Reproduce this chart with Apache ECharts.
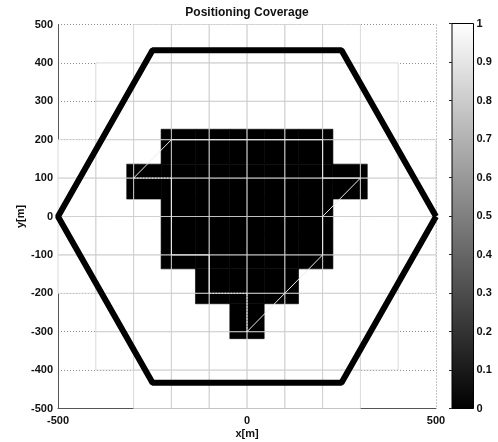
<!DOCTYPE html>
<html><head><meta charset="utf-8">
<script src="https://cdn.jsdelivr.net/npm/echarts@6/dist/echarts.min.js"></script>
<style>html,body{margin:0;padding:0;background:#fff}#c{width:498px;height:442px}</style>
</head><body><div id="c"></div>
<script>
// ---------------- data ----------------
const titleText = 'Positioning Coverage';
const xTicks = [-500, 0, 500];
const yTicks = [-500, -400, -300, -200, -100, 0, 100, 200, 300, 400, 500];
const cbTicks = [0, 0.1, 0.2, 0.3, 0.4, 0.5, 0.6, 0.7, 0.8, 0.9, 1];

// light mesh of 100 m cells: band bottoms and half widths
const meshBandY = [-500, -400, -300, -200, -100, 0, 100, 200, 300, 400];
const meshBandHalfW = [300, 400, 400, 500, 500, 500, 500, 400, 400, 300];
const meshCell = 100;

// coverage image, 11 x 11 cells over [-500,500]^2, rows from top to bottom
const coverageRows = [
  [1,1,1,1,1,1,1,1,1,1,1],
  [1,1,1,1,1,1,1,1,1,1,1],
  [1,1,1,1,1,1,1,1,1,1,1],
  [1,1,1,0,0,0,0,0,1,1,1],
  [1,1,0,0,0,0,0,0,0,1,1],
  [1,1,1,0,0,0,0,0,1,1,1],
  [1,1,1,0,0,0,0,0,1,1,1],
  [1,1,1,1,0,0,0,1,1,1,1],
  [1,1,1,1,1,0,1,1,1,1,1],
  [1,1,1,1,1,1,1,1,1,1,1],
  [1,1,1,1,1,1,1,1,1,1,1]
];

// contour path (light line) and which segments are dotted
const contourX = [-300, -200, 200, 200, 300, 200, 200, 0, 0, -100, -100, -200, -200, -300];
const contourY = [100, 200, 200, 100, 100, 0, -100, -300, -200, -200, -100, -100, 100, 100];
const contourDotted = [0, 0, 0, 0, 0, 0, 0, 1, 1, 0, 0, 0, 1];

// hexagon cell boundary
const hexX = [500, 250, -250, -500, -250, 250, 500];
const hexY = [0, 433, 433, 0, -433, -433, 0];

// colormap (gray)
const colormapStops = ['#000000', '#ffffff'];

// ---------------- build ----------------
const FONT = 'Liberation Sans';
const lblStyle = {fontFamily: FONT, fontWeight: 'bold', fontSize: 11, color: '#111'};

const covN = coverageRows.length;
const covCell = 1000 / covN;
const coverageData = [];
coverageRows.forEach((row, r) => row.forEach((v, c) => {
  coverageData.push([(c - (covN - 1) / 2) * covCell, ((covN - 1) / 2 - r) * covCell, v]);
}));

const meshData = [];
meshBandY.forEach((y, i) => {
  for (let x = -meshBandHalfW[i]; x < meshBandHalfW[i]; x += meshCell) meshData.push([x, y]);
});

const contourData = [];
for (let i = 0; i < contourX.length - 1; i++) {
  contourData.push([contourX[i], contourY[i], contourX[i + 1], contourY[i + 1], contourDotted[i]]);
}

function meshRect(api) {
  const x = api.value(0), y = api.value(1);
  const p = api.coord([x, y + meshCell]);
  const s = api.size([meshCell, meshCell]);
  return {x: p[0], y: p[1], width: s[0], height: s[1]};
}

const chart = echarts.init(document.getElementById('c'), null, {renderer: 'canvas'});
chart.setOption({
  animation: false,
  backgroundColor: '#fff',
  title: {
    text: titleText, left: 247, top: 7, textAlign: 'center', padding: 0,
    textStyle: {fontFamily: FONT, fontWeight: 'bold', fontSize: 12, color: '#111'}
  },
  grid: [
    {left: 58, top: 24.5, width: 378, height: 384, containLabel: false, outerBoundsMode: 'none'},
    {left: 452, top: 23.5, width: 21.5, height: 385, containLabel: false, outerBoundsMode: 'none'}
  ],
  xAxis: [
    {
      gridIndex: 0, type: 'value', min: xTicks[0], max: xTicks[xTicks.length - 1],
      interval: xTicks[1] - xTicks[0],
      name: 'x[m]', nameLocation: 'middle', nameGap: 20, nameMoveOverlap: false, nameTextStyle: lblStyle,
      axisLine: {show: true, onZero: false, lineStyle: {color: '#555', width: 1}},
      axisTick: {show: false},
      axisLabel: Object.assign({margin: 7}, lblStyle),
      splitLine: {show: true, lineStyle: {color: '#8c8c8c', type: [1, 2], width: 1}}
    },
    {gridIndex: 1, type: 'value', min: 0, max: 1, show: false}
  ],
  yAxis: [
    {
      gridIndex: 0, type: 'value', min: yTicks[0], max: yTicks[yTicks.length - 1],
      interval: yTicks[1] - yTicks[0],
      name: 'y[m]', nameLocation: 'middle', nameGap: 32, nameMoveOverlap: false, nameTextStyle: lblStyle,
      axisLine: {show: true, onZero: false, lineStyle: {color: '#555', width: 1}},
      axisTick: {show: false},
      axisLabel: Object.assign({margin: 5}, lblStyle),
      splitLine: {show: true, lineStyle: {color: '#8c8c8c', type: [1, 2], width: 1}}
    },
    {
      gridIndex: 1, type: 'value', position: 'right', z: 10,
      min: cbTicks[0], max: cbTicks[cbTicks.length - 1], interval: cbTicks[1] - cbTicks[0],
      axisLine: {show: false},
      axisTick: {show: true, inside: true, length: 3, lineStyle: {color: '#222'}},
      axisLabel: Object.assign({margin: 3}, lblStyle),
      splitLine: {show: false}
    }
  ],
  series: [
    { // white mesh fill
      type: 'custom', xAxisIndex: 0, yAxisIndex: 0, z: 1, silent: true,
      data: meshData,
      renderItem: (params, api) => ({type: 'rect', shape: meshRect(api), style: {fill: '#fff', stroke: null}})
    },
    { // coverage image
      type: 'custom', xAxisIndex: 0, yAxisIndex: 0, z: 2, silent: true,
      data: coverageData,
      renderItem: (params, api) => {
        const v = api.value(2);
        if (v >= 1) return null;
        const cx = api.value(0), cy = api.value(1);
        const p = api.coord([cx - covCell / 2, cy + covCell / 2]);
        const s = api.size([covCell, covCell]);
        const g = Math.round(255 * v);
        const col = 'rgb(' + g + ',' + g + ',' + g + ')';
        return {type: 'rect', shape: {x: p[0], y: p[1], width: s[0], height: s[1]},
                style: {fill: col, stroke: col, lineWidth: 0.6}};
      }
    },
    { // mesh edges
      type: 'custom', xAxisIndex: 0, yAxisIndex: 0, z: 3, silent: true,
      data: meshData,
      renderItem: (params, api) => ({type: 'rect', shape: meshRect(api),
        style: {fill: null, stroke: 'rgba(205,205,205,0.75)', lineWidth: 1}})
    },
    { // contour
      type: 'custom', xAxisIndex: 0, yAxisIndex: 0, z: 4, silent: true,
      data: contourData,
      renderItem: (params, api) => {
        const a = api.coord([api.value(0), api.value(1)]);
        const b = api.coord([api.value(2), api.value(3)]);
        const dotted = api.value(4) === 1;
        return {type: 'line', shape: {x1: a[0], y1: a[1], x2: b[0], y2: b[1]},
                style: {stroke: '#ececec', lineWidth: 1, lineDash: dotted ? [1.5, 1.5] : null}};
      }
    },
    { // hexagon
      type: 'line', xAxisIndex: 0, yAxisIndex: 0, z: 5, silent: true,
      data: hexX.map((x, i) => [x, hexY[i]]),
      symbol: 'none', clip: true,
      lineStyle: {color: '#000', width: 6}
    },
    { // colorbar
      type: 'custom', xAxisIndex: 1, yAxisIndex: 1, z: 2, silent: true,
      data: [[0, 0]],
      renderItem: (params, api) => {
        const p0 = api.coord([0, 1]);
        const p1 = api.coord([1, 0]);
        return {type: 'rect', shape: {x: p0[0], y: p0[1], width: p1[0] - p0[0], height: p1[1] - p0[1]},
          style: {
            fill: new echarts.graphic.LinearGradient(0, 1, 0, 0, [
              {offset: 0, color: colormapStops[0]}, {offset: 1, color: colormapStops[1]}]),
            stroke: '#000', lineWidth: 1
          }};
      }
    }
  ]
});
</script></body></html>
